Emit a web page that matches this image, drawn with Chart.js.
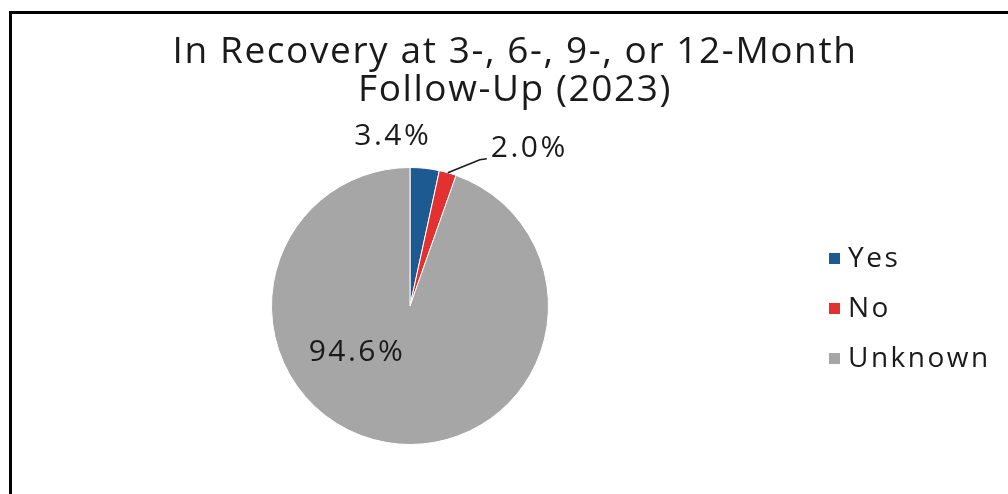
<!DOCTYPE html>
<html>
<head>
<meta charset="utf-8">
<script src="https://cdn.jsdelivr.net/npm/chart.js@4.4.1/dist/chart.umd.min.js"></script>
<style>
    html, body { margin: 0; padding: 0; background: #fff; }
    .wrap { position: relative; width: 1008px; height: 494px; overflow: hidden; }
    .frame {
        position: absolute; left: 9px; top: 11px; right: -10px; bottom: -10px;
        border-left: 3px solid #000; border-top: 3px solid #000;
    }
    canvas { position: absolute; left: 0; top: 0; }
</style>
</head>
<body>
<div class="wrap">
    <div class="frame"></div>
    <canvas id="pieChart" width="1008" height="494"></canvas>
</div>
<script>
// --- Data ---
const titleLines = ['In Recovery at 3-, 6-, 9-, or 12-Month', 'Follow-Up (2023)'];
const categories = ['Yes', 'No', 'Unknown'];
const percentages = [3.4, 2.0, 94.6];
const sliceColors = ['#1c5a91', '#e2312f', '#a6a6a6'];

const FONT = '"Open Sans", "DejaVu Sans", sans-serif';

// label placement, relative to the mid point of each slice's outer edge
const labelOffsets = [
    { dx: -32, dy: -32 },
    { dx: 68, dy: -24, leader: true },
    { dx: 0, dy: 0, inside: true }
];

// --- Title, labels and legend drawn on top ---
const decorPlugin = {
    id: 'decor',
    afterDraw(chart) {
        const ctx = chart.ctx;
        ctx.save();
        ctx.fillStyle = '#1a1a1a';

        // title
        ctx.font = '37px ' + FONT;
        ctx.letterSpacing = '1.6px';
        ctx.textAlign = 'center';
        ctx.textBaseline = 'alphabetic';
        ctx.fillText(titleLines[0], 515, 63);
        ctx.fillText(titleLines[1], 515, 101);

        // data labels
        const meta = chart.getDatasetMeta(0);
        ctx.font = '30px ' + FONT;
        ctx.letterSpacing = '2.5px';
        ctx.textBaseline = 'middle';
        meta.data.forEach((arc, i) => {
            const mid = (arc.startAngle + arc.endAngle) / 2;
            const text = percentages[i].toFixed(1) + '%';
            const off = labelOffsets[i];
            if (off.inside) {
                ctx.textAlign = 'center';
                ctx.fillText(text, arc.x - 53, arc.y + 46);
                return;
            }
            const px = arc.x + Math.cos(mid) * arc.outerRadius;
            const py = arc.y + Math.sin(mid) * arc.outerRadius;
            if (off.leader) {
                ctx.strokeStyle = '#1a1a1a';
                ctx.lineWidth = 1.5;
                ctx.beginPath();
                ctx.moveTo(px, py);
                ctx.lineTo(px + 32, py - 13);
                ctx.lineTo(px + 39, py - 14);
                ctx.stroke();
                ctx.textAlign = 'left';
                ctx.fillText(text, px + 43, py + off.dy);
            } else {
                ctx.textAlign = 'center';
                ctx.fillText(text, px + off.dx, py + off.dy);
            }
        });

        // legend
        ctx.font = '28px ' + FONT;
        ctx.letterSpacing = '2.5px';
        ctx.textAlign = 'left';
        ctx.textBaseline = 'alphabetic';
        categories.forEach((name, i) => {
            const base = 267 + i * 50;
            ctx.fillStyle = sliceColors[i];
            ctx.fillRect(829, base - 14, 11, 11);
            ctx.fillStyle = '#1a1a1a';
            ctx.fillText(name, 848, base);
        });
        ctx.restore();
    }
};

new Chart(document.getElementById('pieChart'), {
    type: 'pie',
    data: {
        labels: categories,
        datasets: [{
            data: percentages,
            backgroundColor: sliceColors,
            borderColor: '#ffffff',
            borderWidth: 1
        }]
    },
    options: {
        responsive: false,
        animation: false,
        layout: {
            padding: { top: 167, bottom: 49, left: 271, right: 459 }
        },
        plugins: {
            legend: { display: false },
            title: { display: false },
            tooltip: { enabled: false }
        }
    },
    plugins: [decorPlugin]
});
</script>
</body>
</html>
